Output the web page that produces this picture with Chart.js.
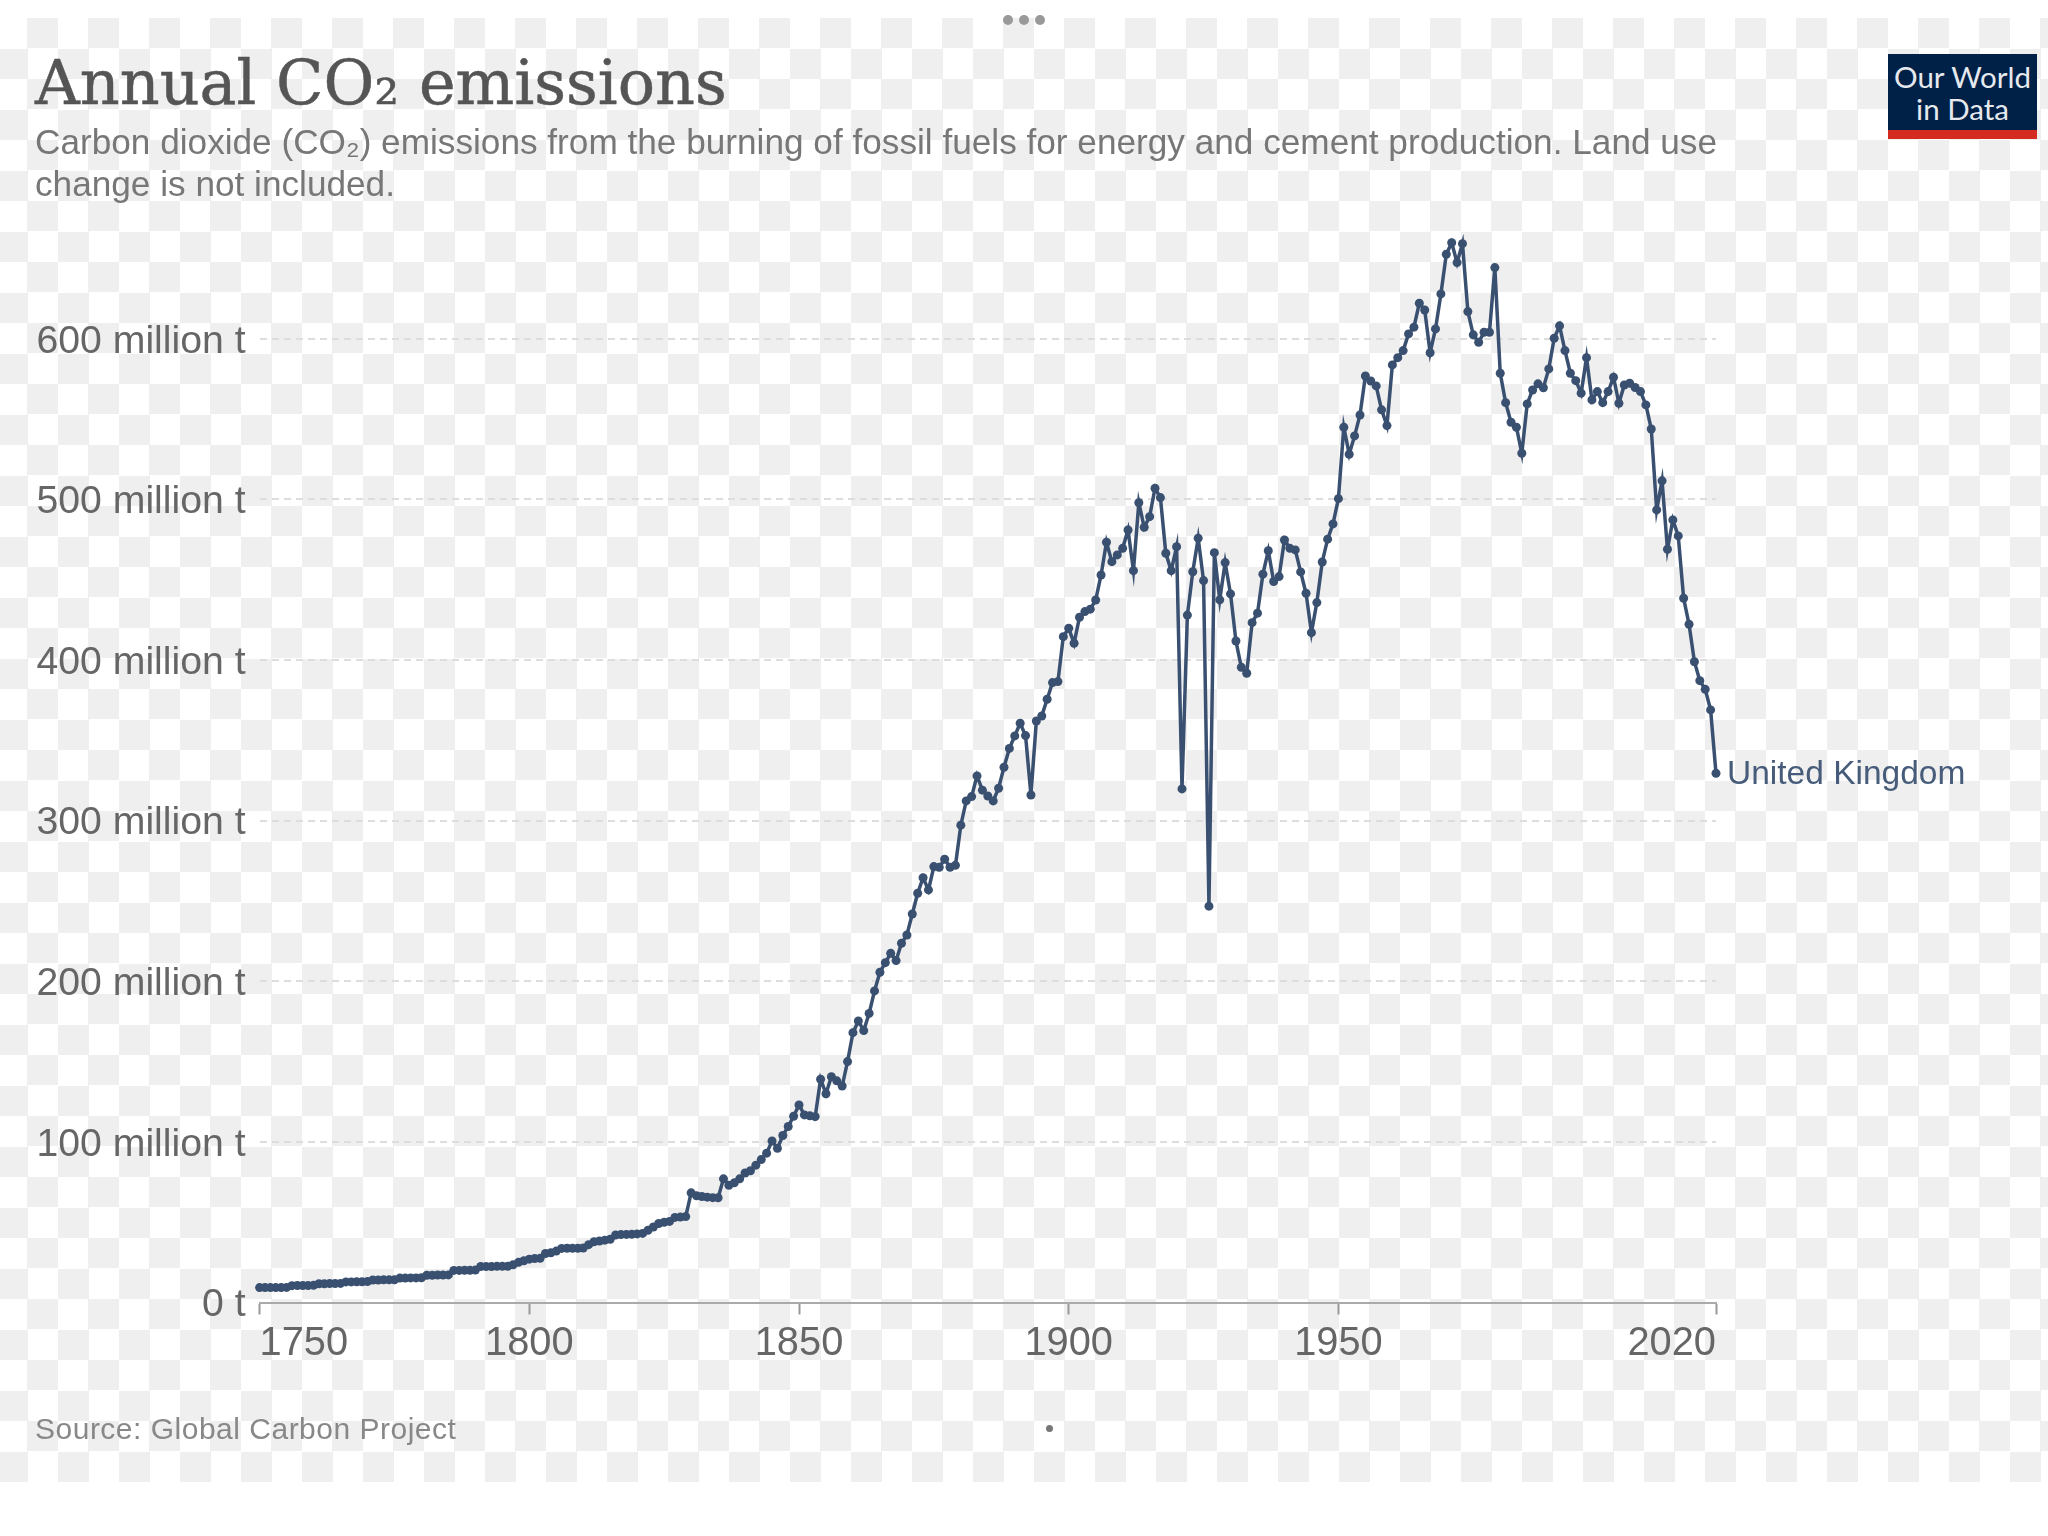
<!DOCTYPE html>
<html>
<head>
<meta charset="utf-8">
<script src="https://cdn.jsdelivr.net/npm/chart.js@4"></script>
<style>
html,body{margin:0;padding:0;background:#fff;width:2048px;height:1536px;overflow:hidden}
#checker{position:absolute;left:0;top:18px;width:2048px;height:1464px;
 background:repeating-conic-gradient(#efefef 0 25%,#fff 0 50%) -3px 0/61px 61px}
canvas{position:absolute;left:0;top:0}
.t{position:absolute;white-space:nowrap;margin:0}
#title{left:35px;top:43px;font:62px/80px "DejaVu Serif",serif;color:#555;-webkit-text-stroke:.5px #555}
#sub{left:35px;top:121px;font:35.2px/42px "Liberation Sans",sans-serif;color:#777}
#source{left:35px;top:1411px;font:30px/36px "Liberation Sans",sans-serif;letter-spacing:.5px;color:#888}
#logo{position:absolute;left:1888px;top:54px;width:149px;height:76px;background:#002147;border-bottom:9px solid #d42b21;
 color:#e6e9ee;font:29.5px/32px Lato,sans-serif;text-align:center}
#logo div{padding-top:7px}
.dot{position:absolute;border-radius:50%}
</style>
</head>
<body>
<div id="checker"></div>
<canvas id="c" width="2048" height="1536"></canvas>
<h1 class="t" id="title" style="font-weight:400">Annual CO₂ emissions</h1>
<p class="t" id="sub">Carbon dioxide (CO₂) emissions from the burning of fossil fuels for energy and cement production. Land use<br>change is not included.</p>
<p class="t" id="source">Source: Global Carbon Project</p>
<div id="logo"><div>Our World<br>in Data</div></div>
<div class="dot" style="left:1003px;top:15px;width:10px;height:10px;background:#999"></div>
<div class="dot" style="left:1019px;top:15px;width:10px;height:10px;background:#999"></div>
<div class="dot" style="left:1035px;top:15px;width:10px;height:10px;background:#999"></div>
<div class="dot" style="left:1046px;top:1425px;width:7px;height:7px;background:#777"></div>
<script>
const seriesName = "United Kingdom";
const firstYear = 1750;
const xTicks = [1750, 1800, 1850, 1900, 1950, 2020];
const yTicks = [0, 100, 200, 300, 400, 500, 600];
const emissions = [
 9.3,9.3,9.3,9.3,9.3,9.4,10.5,10.6,10.6,10.6,
 10.7,11.7,11.7,11.8,11.8,11.9,12.8,12.8,12.9,12.9,
 13,14,14,14.1,14.1,14.2,15.2,15.2,15.3,15.3,
 15.4,17,17,17.1,17.1,17.2,20,20,20.1,20.1,
 20.2,22.4,22.4,22.4,22.5,22.5,22.5,23.5,25,26,
 27,27.4,27.5,30.5,31,32,33.7,33.8,33.8,33.8,
 33.9,36,37.8,38.3,38.8,39.4,42,42.3,42.4,42.5,
 42.7,43,45,47,49.2,50,50.5,53,53.2,53.5,
 68.3,66.5,66,65.6,65.3,65.2,77,73,74.5,77,
 80.6,82,85.5,89,93,100.6,96,104,109.6,116,
 123,116.8,116.3,115.7,139,130,140.6,138,134.8,150,
 168,175.3,169.3,180,194,205.6,211.6,217.4,212.9,223.7,
 228.8,241.9,254.8,264.5,256.9,271.4,271,276,271,272.2,
 297.2,312.3,315,327.9,319,315.4,312.3,320.2,333.3,345,
 352.8,360.7,353,316,362.1,365.2,375.6,386,386.6,414.6,
 419.8,410.5,426.7,430.2,431.7,437.4,453,473.4,461.3,465.5,
 469.6,481,455.7,498,482.7,489.3,507,501.2,466.5,455.7,
 470.6,319.8,428,455,475.9,449.5,246.8,466.9,437.5,460.7,
 441.2,411.9,395.5,391.8,423.3,429.2,453.5,468.1,448.9,452,
 474.8,469.6,468.6,454.9,441.6,417.1,435.8,461.1,475.3,484.8,
 500.5,545,528.2,539.6,552.6,576.9,573.8,570.7,555.8,546,
 583.8,588.3,592.7,603.1,607.3,622.2,618,591.4,606.2,628,
 652.7,659.9,647.5,659.3,617,602.5,597.9,604.1,604.1,644.4,
 578.6,560.3,548.1,545,528.8,559.5,568.2,572,569.6,581.3,
 600.4,608.1,592.7,578.6,574,566.2,588.3,562,567.2,560.3,
 567.2,576.1,559.9,571.3,572.4,569.7,567.2,558.9,543.9,493.5,
 511.6,469,487.3,477.3,438.5,422.3,399,387.2,381.8,369,
 329.5
];
const lineColor = "#3a5070";
const endLabel = {
  id: "endLabel",
  afterDatasetsDraw(chart) {
    const meta = chart.getDatasetMeta(0).data;
    const p = meta[meta.length - 1];
    const ctx = chart.ctx;
    ctx.save();
    ctx.font = '33.5px "Liberation Sans", sans-serif';
    ctx.fillStyle = "#465c7a";
    ctx.textAlign = "left";
    ctx.textBaseline = "middle";
    ctx.fillText(seriesName, p.x + 11, p.y + 1);
    ctx.restore();
  }
};
new Chart(document.getElementById("c"), {
  type: "line",
  plugins: [endLabel],
  data: {
    datasets: [{
      label: seriesName,
      data: emissions.map((v, i) => ({ x: firstYear + i, y: v })),
      borderColor: lineColor,
      backgroundColor: lineColor,
      borderWidth: 3.5,
      pointRadius: 4.5,
      pointBorderWidth: 0,
      tension: 0,
      clip: false
    }]
  },
  options: {
    responsive: false,
    animation: false,
    devicePixelRatio: 1,
    layout: { padding: { left: 0, right: 332, top: 210.4, bottom: 133.5 } },
    plugins: { legend: { display: false }, tooltip: { enabled: false }, title: { display: false } },
    scales: {
      x: {
        type: "linear",
        min: 1750,
        max: 2020,
        afterBuildTicks: s => { s.ticks = xTicks.map(v => ({ value: v })); },
        afterFit: s => { s.height = 100; },
        border: { color: "#aaa", width: 2 },
        grid: { drawOnChartArea: false, drawTicks: true, tickLength: 12, tickColor: "#999", tickWidth: 2 },
        ticks: {
          autoSkip: false, maxRotation: 0, align: "inner", padding: 6,
          color: "#666", font: { family: '"Liberation Sans", sans-serif', size: 39.8 },
          callback: v => String(v)
        }
      },
      y: {
        min: 0,
        max: 680,
        afterBuildTicks: s => { s.ticks = yTicks.map(v => ({ value: v })); },
        afterFit: s => { s.width = 259.6; },
        border: { display: false, dash: [7, 5] },
        grid: { color: ctx => ctx.tick.value === 0 ? "rgba(0,0,0,0)" : "#ddd", lineWidth: 2, drawTicks: false },
        ticks: {
          padding: 14, labelOffset: 3, color: "#666", font: { family: '"Liberation Sans", sans-serif', size: 39.2 },
          callback: v => v === 0 ? "0 t" : v + " million t"
        }
      }
    }
  }
});
</script>
</body>
</html>
